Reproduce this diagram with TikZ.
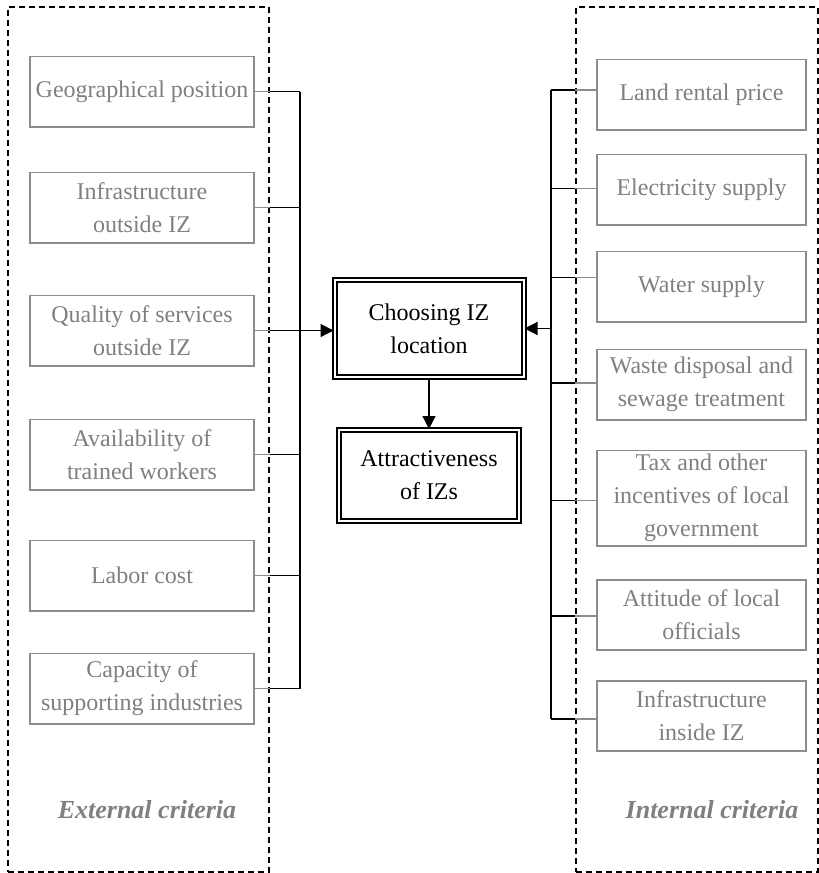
\documentclass[tikz,border=0pt]{standalone}
\usepackage{fontspec}
\setmainfont{Liberation Serif}
\usetikzlibrary{arrows.meta,positioning,calc}
\definecolor{critgray}{HTML}{808080}
\definecolor{critline}{HTML}{8C8C8C}

\begin{document}
\begin{tikzpicture}[
  x=0.5pt, y=-0.5pt,
  font=\fontsize{12}{16.5}\selectfont,
  crit/.style    = {draw=critline, line width=0.8pt, text=critgray, align=center,
                    minimum height=35.2pt, inner sep=2pt, outer sep=0pt},
  extcrit/.style = {crit, minimum width=112.2pt},
  intcrit/.style = {crit, minimum width=104.7pt},
  core/.style    = {draw, double, double distance=1pt, line width=1pt, align=center,
                    text=black},
  frame/.style   = {draw, dash pattern=on 3pt off 2pt, line width=0.6pt},
  wire/.style    = {draw, line width=0.6pt},
  stub/.style    = {draw=critline, line width=0.6pt},
  flow/.style    = {-{Triangle[length=6.5pt, width=6.5pt]}, line width=0.6pt},
  lbl/.style     = {font=\fontsize{13}{15}\selectfont\bfseries\itshape, text=critgray},
]
\useasboundingbox (0,0) rectangle (819,873);

% ---------- dashed frames --------------------------------------------------------------
\node[frame, minimum width=130.5pt, minimum height=432.5pt] (extframe) at (138.5,439.5) {};
\node[frame, minimum width=121pt,   minimum height=432.5pt] (intframe) at (697,439.5) {};
\node[lbl] (extlbl) at (147,810) {External criteria};
\node[lbl] (intlbl) at (712,810) {Internal criteria};

% ---------- left column : external criteria --------------------------------------------
\node[extcrit] (geo) at (142,91.5) {Geographical position};
\node[extcrit, below=22.8pt of geo]     (infout)  {Infrastructure\\outside IZ};
\node[extcrit, below=26.3pt of infout]  (quality) {Quality of services\\outside IZ};
\node[extcrit, below=26.8pt of quality] (workers) {Availability of\\trained workers};
\node[extcrit, below=25.3pt of workers] (labor)   {Labor cost};
\node[extcrit, below=21.3pt of labor]   (suppind) {Capacity of\\supporting industries};

% ---------- right column : internal criteria -------------------------------------------
\node[intcrit] (land) at (701.5,94.5) {Land rental price};
\node[intcrit, below=12.3pt of land]  (power)  {Electricity supply};
\node[intcrit, below=13.3pt of power] (water)  {Water supply};
\node[intcrit, below=13.8pt of water] (waste)  {Waste disposal and\\sewage treatment};
\node[intcrit, below=15.3pt of waste, minimum height=47.2pt] (tax)
     {Tax and other\\incentives of local\\government};
\node[intcrit, below=16.8pt of tax]      (attitude) {Attitude of local\\officials};
\node[intcrit, below=15.3pt of attitude] (infin)    {Infrastructure\\inside IZ};

% ---------- centre -----------------------------------------------------------------------
\node[core, minimum width=94.5pt, minimum height=48.5pt] (choose) at (429,328.5)
     {Choosing IZ\\location};
\node[core, minimum width=90pt, minimum height=45.5pt] (attract) at (429,475.5)
     {Attractiveness\\of IZs};

\coordinate (lbus) at (300,0);
\coordinate (rbus) at (551,0);

% left bus
\foreach \b in {geo,infout,quality,workers,labor,suppind}{
  \draw[stub] (\b.east) -- (\b.east -| extframe.east);
  \draw[wire] (\b.east -| extframe.east) -- (\b.east -| lbus);
}
\draw[wire] (geo.east -| lbus) -- (suppind.east -| lbus);
\draw[flow] (quality.east -| lbus) -- (quality.east -| choose.west);

% right bus
\foreach \b/\s in {land/2.25,power/0.5,water/4.5,waste/0.75,tax/-1,attitude/-0.5,infin/-1.5}{
  \draw[stub] ([yshift=\s pt]\b.west) -- ([yshift=\s pt]\b.west -| intframe.west);
  \draw[wire] ([yshift=\s pt]\b.west -| intframe.west) -- ([yshift=\s pt]\b.west -| rbus);
}
\draw[wire] ([yshift=2.25pt]land.west -| rbus) -- ([yshift=-1.5pt]infin.west -| rbus);
\draw[flow] (choose.east -| rbus) -- (choose.east);

\draw[flow] (choose.south) -- (attract.north);

\end{tikzpicture}
\end{document}
